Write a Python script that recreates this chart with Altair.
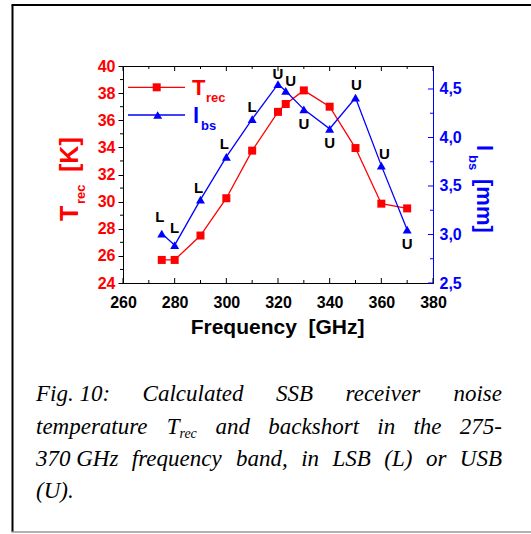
import altair as alt
import pandas as pd

# ---------------- data ----------------
freq = [275, 280, 290, 300, 310, 320, 323, 330, 340, 350, 360, 370]
trec = [25.7, 25.7, 27.5, 30.25, 33.76, 36.62, 37.2, 38.2, 37.0, 33.95, 29.85, 29.5]
lbs = [3.01, 2.89, 3.36, 3.80, 4.19, 4.55, 4.48, 4.29, 4.09, 4.41, 3.71, 3.05]
band = ["L", "L", "L", "L", "L", "U", "U", "U", "U", "U", "U", "U"]

x_tick_labels = [260, 280, 300, 320, 340, 360, 380]
x_minor = [270, 290, 310, 330, 350, 370]
yl_tick_labels = [24, 26, 28, 30, 32, 34, 36, 38, 40]
yl_minor = [25, 27, 29, 31, 33, 35, 37, 39]
yr_tick_labels = [2.5, 3.0, 3.5, 4.0, 4.5]
yr_minor = [2.75, 3.25, 3.75, 4.25]

caption_lines = [
    ["Fig. 10:", "Calculated", "SSB", "receiver", "noise"],
    ["temperature", "T|rec", "and", "backshort", "in", "the", "275-"],
    ["370 GHz", "frequency", "band,", "in", "LSB", "(L)", "or", "USB"],
    ["(U)."],
]

# ---------------- layout (pixels) ----------------
OX, OY = 123, 66          # plot origin in the page
W, H = 310, 217
RED, BLUE = "#ff0000", "#0000ff"
FONT = "Liberation Sans"
SERIF = "Liberation Serif"
label_dx = [-2, 0, -2, -2, 0, 0, 5, 0, 0, 1, 3, 0]
label_dy = [-17, -17, -12, -13, -12, -10, -10, 15, 14, -13, -12, 14]

one = pd.DataFrame({"k": [0]})

x_scale = alt.Scale(domain=[260, 380], nice=False, zero=False)
yl_scale = alt.Scale(domain=[24, 40], nice=False, zero=False)
yr_scale = alt.Scale(domain=[2.5, 4.737], nice=False, zero=False)

df_t = pd.DataFrame({"f": freq, "v": trec})
df_l = pd.DataFrame({"f": freq, "v": lbs, "band": band})

x_axis = alt.Axis(values=x_tick_labels, title=None, ticks=False, tickSize=0, labelPadding=11,
                  labelFont=FONT, labelFontSize=16, labelFontWeight="bold", labelColor="black",
                  domainColor="black", grid=False, labelFlush=False)
yl_axis = alt.Axis(values=yl_tick_labels, title=None, orient="left", tickSize=5, tickColor="black",
                   labelPadding=3, labelFont=FONT, labelFontSize=16, labelFontWeight="bold",
                   labelColor=RED, domainColor="black", grid=False, labelFlush=False)
yr_axis = alt.Axis(values=yr_tick_labels, title=None, orient="right", ticks=False, tickSize=0,
                   labelPadding=6, labelFont=FONT, labelFontSize=16, labelFontWeight="bold",
                   labelColor=BLUE, domainColor=BLUE, grid=False, labelFlush=False,
                   labelExpr="replace(format(datum.value, '.1f'), '.', ',')")

X = alt.X("f:Q", scale=x_scale, axis=x_axis)
YL = alt.Y("v:Q", scale=yl_scale, axis=yl_axis)
YR = alt.Y("v:Q", scale=yr_scale, axis=yr_axis)


def txt(s, x, y, size, color="black", weight="bold", font=FONT, angle=0, style="normal", align="left"):
    return alt.Chart(one).mark_text(text=s, font=font, fontSize=size, fontWeight=weight,
                                    fontStyle=style, color=color, angle=angle, align=align,
                                    baseline="alphabetic").encode(x=alt.value(x), y=alt.value(y))


def hline(x1, x2, y, color, width):
    return alt.Chart(one).mark_rule(color=color, strokeWidth=width).encode(
        x=alt.value(x1), x2=alt.value(x2), y=alt.value(y))


def vline(x, y1, y2, color, width):
    return alt.Chart(one).mark_rule(color=color, strokeWidth=width).encode(
        x=alt.value(x), y=alt.value(y1), y2=alt.value(y2))


# ---------- red (T_rec) group ----------
red_line = alt.Chart(df_t).mark_line(color=RED, strokeWidth=1.3).encode(x=X, y=YL)
red_pts = alt.Chart(df_t).mark_point(shape="square", filled=True, size=64, color=RED, opacity=1).encode(x=X, y=YL)
yl_min = alt.Chart(pd.DataFrame({"v": yl_minor})).mark_rule(color="black", strokeWidth=1).encode(
    y=YL, x=alt.value(-3), x2=alt.value(0))

xt_major = pd.DataFrame({"f": x_tick_labels})
xt_minor = pd.DataFrame({"f": x_minor})
bot_major = alt.Chart(xt_major).mark_rule(color="black").encode(x=X, y=alt.value(H), y2=alt.value(H - 5))
bot_minor = alt.Chart(xt_minor).mark_rule(color="black").encode(x=X, y=alt.value(H), y2=alt.value(H - 3))
top_major = alt.Chart(xt_major).mark_rule(color="black").encode(x=X, y=alt.value(0), y2=alt.value(5))
top_minor = alt.Chart(xt_minor).mark_rule(color="black").encode(x=X, y=alt.value(0), y2=alt.value(3))

red_group = alt.layer(red_line, red_pts, yl_min, bot_major, bot_minor, top_major, top_minor)

# ---------- blue (l_bs) group ----------
blue_line = alt.Chart(df_l).mark_line(color=BLUE, strokeWidth=1.3).encode(x=X, y=YR)
blue_pts = alt.Chart(df_l).mark_point(shape="triangle-up", filled=True, size=80, color=BLUE, opacity=1).encode(x=X, y=YR)
label_layers = []
for i in range(len(freq)):
    label_layers.append(
        alt.Chart(df_l.iloc[[i]]).mark_text(font=FONT, fontSize=15, fontWeight="bold", color="black",
                                             baseline="middle", align="center",
                                             dx=label_dx[i], dy=label_dy[i]).encode(
            x=X, y=YR, text="band:N"))
yr_maj = alt.Chart(pd.DataFrame({"v": yr_tick_labels})).mark_rule(color=BLUE).encode(
    y=YR, x=alt.value(W - 5), x2=alt.value(W))
yr_min = alt.Chart(pd.DataFrame({"v": yr_minor})).mark_rule(color=BLUE).encode(
    y=YR, x=alt.value(W - 3), x2=alt.value(W))

blue_group = alt.layer(blue_line, blue_pts, *label_layers, yr_maj, yr_min)

# ---------- legend, axis titles, frame ----------
deco = [
    hline(5, 62, 21.3, RED, 1.3),
    alt.Chart(one).mark_point(shape="square", filled=True, size=64, color=RED, opacity=1).encode(
        x=alt.value(33.7), y=alt.value(21.3)),
    txt("T", 69, 28.5, 22, RED),
    txt("rec", 83, 36, 13, RED),
    hline(5, 62, 49, BLUE, 1.3),
    alt.Chart(one).mark_point(shape="triangle-up", filled=True, size=80, color=BLUE, opacity=1).encode(
        x=alt.value(34.7), y=alt.value(49)),
    txt("l", 70, 57, 22, BLUE),
    txt("bs", 78, 64, 13, BLUE),
    # x title
    txt("Frequency\u00a0\u00a0[GHz]", 154.6, 268, 21, "black", align="center"),
    # left title (rotated)
    txt("T", -45, 155, 25, RED, angle=270),
    txt("rec", -38, 138, 13, RED, angle=270),
    txt("[K]", -45, 106, 25, RED, angle=270),
    # right title (rotated)
    txt("l", 354, 79, 22, BLUE, angle=90),
    txt("bs", 346, 89, 13, BLUE, angle=90),
    txt("[mm]", 354, 113, 22, BLUE, angle=90),
    # frame
    vline(12.5 - OX, 5 - OY, 532 - OY, "black", 2),
    hline(11.5 - OX, 540 - OX, 5 - OY, "black", 2),
    hline(11.5 - OX, 540 - OX, 532 - OY, "#999999", 1.5),
]

# ---------- caption (justified, Times-like italic) ----------
TI = {' ': 250, '(': 333, ')': 333, ',': 250, '-': 333, '.': 250, ':': 333,
      'B': 611, 'C': 667, 'F': 611, 'G': 722, 'H': 722, 'L': 556, 'S': 500, 'T': 556, 'U': 722,
      'a': 500, 'b': 500, 'c': 444, 'd': 500, 'e': 444, 'f': 278, 'g': 500, 'h': 500, 'i': 278,
      'k': 444, 'l': 278, 'm': 722, 'n': 500, 'o': 500, 'p': 500, 'q': 500, 'r': 389, 's': 389,
      't': 278, 'u': 500, 'v': 444, 'y': 444, 'z': 389}
for d in "0123456789":
    TI[d] = 500
CF, SF = 23, 14           # caption font size, subscript size
CL, CR = 36, 502          # left / right margins of caption
baselines = [401, 434, 466, 498]


def tw(s, fs):
    return sum(TI.get(c, 500) for c in s) * fs / 1000.0


def wwidth(w):
    if "|" in w:
        a, b = w.split("|")
        return tw(a, CF) + tw(b, SF)
    return tw(w, CF)


cap = []
for li, words in enumerate(caption_lines):
    ws = [wwidth(w) for w in words]
    if li < len(caption_lines) - 1 and len(words) > 1:
        gap = (CR - CL - sum(ws)) / (len(words) - 1)
    else:
        gap = tw(" ", CF)
    x = CL
    for w, wd in zip(words, ws):
        yb = baselines[li] - OY
        if "|" in w:
            a, b = w.split("|")
            cap.append(txt(a, x - OX, yb, CF, weight="normal", font=SERIF, style="italic"))
            cap.append(txt(b, x + tw(a, CF) - OX, yb + 4, SF, weight="normal", font=SERIF, style="italic"))
        else:
            cap.append(txt(w, x - OX, yb, CF, weight="normal", font=SERIF, style="italic"))
        x += wd + gap

deco_group = alt.layer(*deco, *cap)

chart = alt.layer(red_group, blue_group, deco_group).resolve_scale(y="independent").properties(
    width=W, height=H,
    padding={"left": OX, "top": OY, "right": 531 - OX - W, "bottom": 534 - OY - H},
    autosize=alt.AutoSizeParams(type="none"),
    background="white",
).configure_view(stroke="black", strokeWidth=1)

chart.save("out.html", embed_options={"renderer": "svg", "actions": False})
